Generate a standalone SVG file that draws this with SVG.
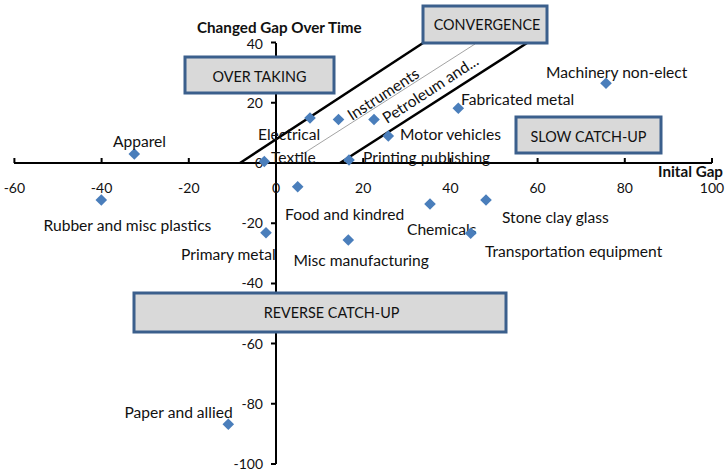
<svg xmlns="http://www.w3.org/2000/svg" width="725" height="473" viewBox="0 0 725 473">
<defs>
<style>
text{font-family:Lato,"Open Sans","Liberation Sans",sans-serif;fill:#111}
.lbl{font-size:15.6px}
.ax{font-size:14px}
.ttl{font-size:15.2px;font-weight:bold}
.box rect{fill:#d9d9d9;stroke:#3b5f8c;stroke-width:3}
.box text{font-size:14.4px;text-anchor:middle}
.axis{stroke:#000;stroke-width:2;fill:none}
.pt{fill:#4a7ebb}
.edge{stroke:#000;stroke-width:2.5;fill:none}
.thin{stroke:#8c8c8c;stroke-width:0.8;fill:none}
</style>
<path id="d" d="M0,-5.8 L5.8,0 L0,5.8 L-5.8,0 Z"/>
</defs>
<rect width="725" height="473" fill="#fff"/>
<g id="axes">
<path class="axis" d="M14,163 H712 M14.4,158 V163 M101.6,158 V163 M188.8,158 V163 M276,158 V163 M363.2,158 V163 M450.4,158 V163 M537.6,158 V163 M624.8,158 V163 M712,158 V163"/>
<path class="axis" d="M276,43 V464 M271,42.6 H276 M271,102.8 H276 M271,163 H276 M271,223.2 H276 M271,283.4 H276 M271,343.6 H276 M271,403.8 H276 M271,464 H276"/>
<g class="ax" text-anchor="middle">
<text x="14.4" y="193">-60</text><text x="101.6" y="193">-40</text><text x="188.8" y="193">-20</text><text x="276" y="193">0</text><text x="363.2" y="193">20</text><text x="450.4" y="193">40</text><text x="537.6" y="193">60</text><text x="624.8" y="193">80</text><text x="712" y="193">100</text>
</g>
<g class="ax" text-anchor="end">
<text x="263" y="48.5">40</text><text x="263" y="107.8">20</text><text x="263" y="168">0</text><text x="263" y="228.2">-20</text><text x="263" y="288.4">-40</text><text x="263" y="348.6">-60</text><text x="263" y="408.8">-80</text><text x="263" y="469">-100</text>
</g>
<text class="ttl" x="197" y="32.5">Changed Gap Over Time</text>
<text class="ttl" x="723" y="177" text-anchor="end">Inital Gap</text>
</g>
<g id="connectors">
<line class="edge" x1="240" y1="163" x2="423" y2="43"/>
<line class="edge" x1="340" y1="163" x2="527" y2="43"/>
<line class="thin" x1="298" y1="157" x2="475" y2="44"/>
</g>
<g id="electrical"><use href="#d" class="pt" x="310" y="118"/><text class="lbl" x="258" y="140">Electrical</text></g>
<g id="instruments"><use href="#d" class="pt" x="338.5" y="119.5"/><text class="lbl" x="352" y="121" transform="rotate(-33 352 121)">Instruments</text></g>
<g id="petroleum"><use href="#d" class="pt" x="374" y="119.5"/><text class="lbl" x="387" y="124" transform="rotate(-33 387 124)">Petroleum and...</text></g>
<g id="motor-vehicles"><use href="#d" class="pt" x="388.3" y="136"/><text class="lbl" x="400" y="140">Motor vehicles</text></g>
<g id="textile"><use href="#d" class="pt" x="264.3" y="161.5"/><text class="lbl" x="271" y="162.5">Textile</text></g>
<g id="printing-publishing"><use href="#d" class="pt" x="349" y="160"/><text class="lbl" x="363" y="163">Printing publishing</text></g>
<g id="fabricated-metal"><use href="#d" class="pt" x="458.3" y="108.3"/><text class="lbl" x="461" y="105">Fabricated metal</text></g>
<g id="machinery"><use href="#d" class="pt" x="606" y="83.3"/><text class="lbl" x="546" y="78.3">Machinery non-elect</text></g>
<g id="apparel"><use href="#d" class="pt" x="134.3" y="154"/><text class="lbl" x="113" y="146.7">Apparel</text></g>
<g id="rubber"><use href="#d" class="pt" x="101.3" y="200"/><text class="lbl" x="43.5" y="230.5">Rubber and misc plastics</text></g>
<g id="food"><use href="#d" class="pt" x="297.7" y="186.7"/><text class="lbl" x="285" y="220">Food and kindred</text></g>
<g id="primary-metal"><use href="#d" class="pt" x="266" y="232.7"/><text class="lbl" x="181" y="260">Primary metal</text></g>
<g id="misc-manufacturing"><use href="#d" class="pt" x="348.3" y="240"/><text class="lbl" x="293.5" y="266">Misc manufacturing</text></g>
<g id="chemicals"><use href="#d" class="pt" x="430" y="204"/><text class="lbl" x="407" y="235">Chemicals</text></g>
<g id="stone-clay-glass"><use href="#d" class="pt" x="486" y="200"/><text class="lbl" x="502" y="223.3">Stone clay glass</text></g>
<g id="transportation"><use href="#d" class="pt" x="470.7" y="233.3"/><text class="lbl" x="485" y="256.7">Transportation equipment</text></g>
<g id="paper"><use href="#d" class="pt" x="228.3" y="424.3"/><text class="lbl" x="124.5" y="417.7">Paper and allied</text></g>
<g id="convergence" class="box"><rect x="423" y="6" width="124" height="37"/><text x="487" y="30">CONVERGENCE</text></g>
<g id="over-taking" class="box"><rect x="185" y="57" width="149" height="36"/><text x="259.5" y="81.5">OVER TAKING</text></g>
<g id="slow-catch-up" class="box"><rect x="516" y="117" width="145" height="36"/><text x="588.5" y="141.5">SLOW CATCH-UP</text></g>
<g id="reverse-catch-up" class="box"><rect x="134" y="293" width="372" height="39"/><text x="331.5" y="317.5">REVERSE CATCH-UP</text></g>
</svg>
